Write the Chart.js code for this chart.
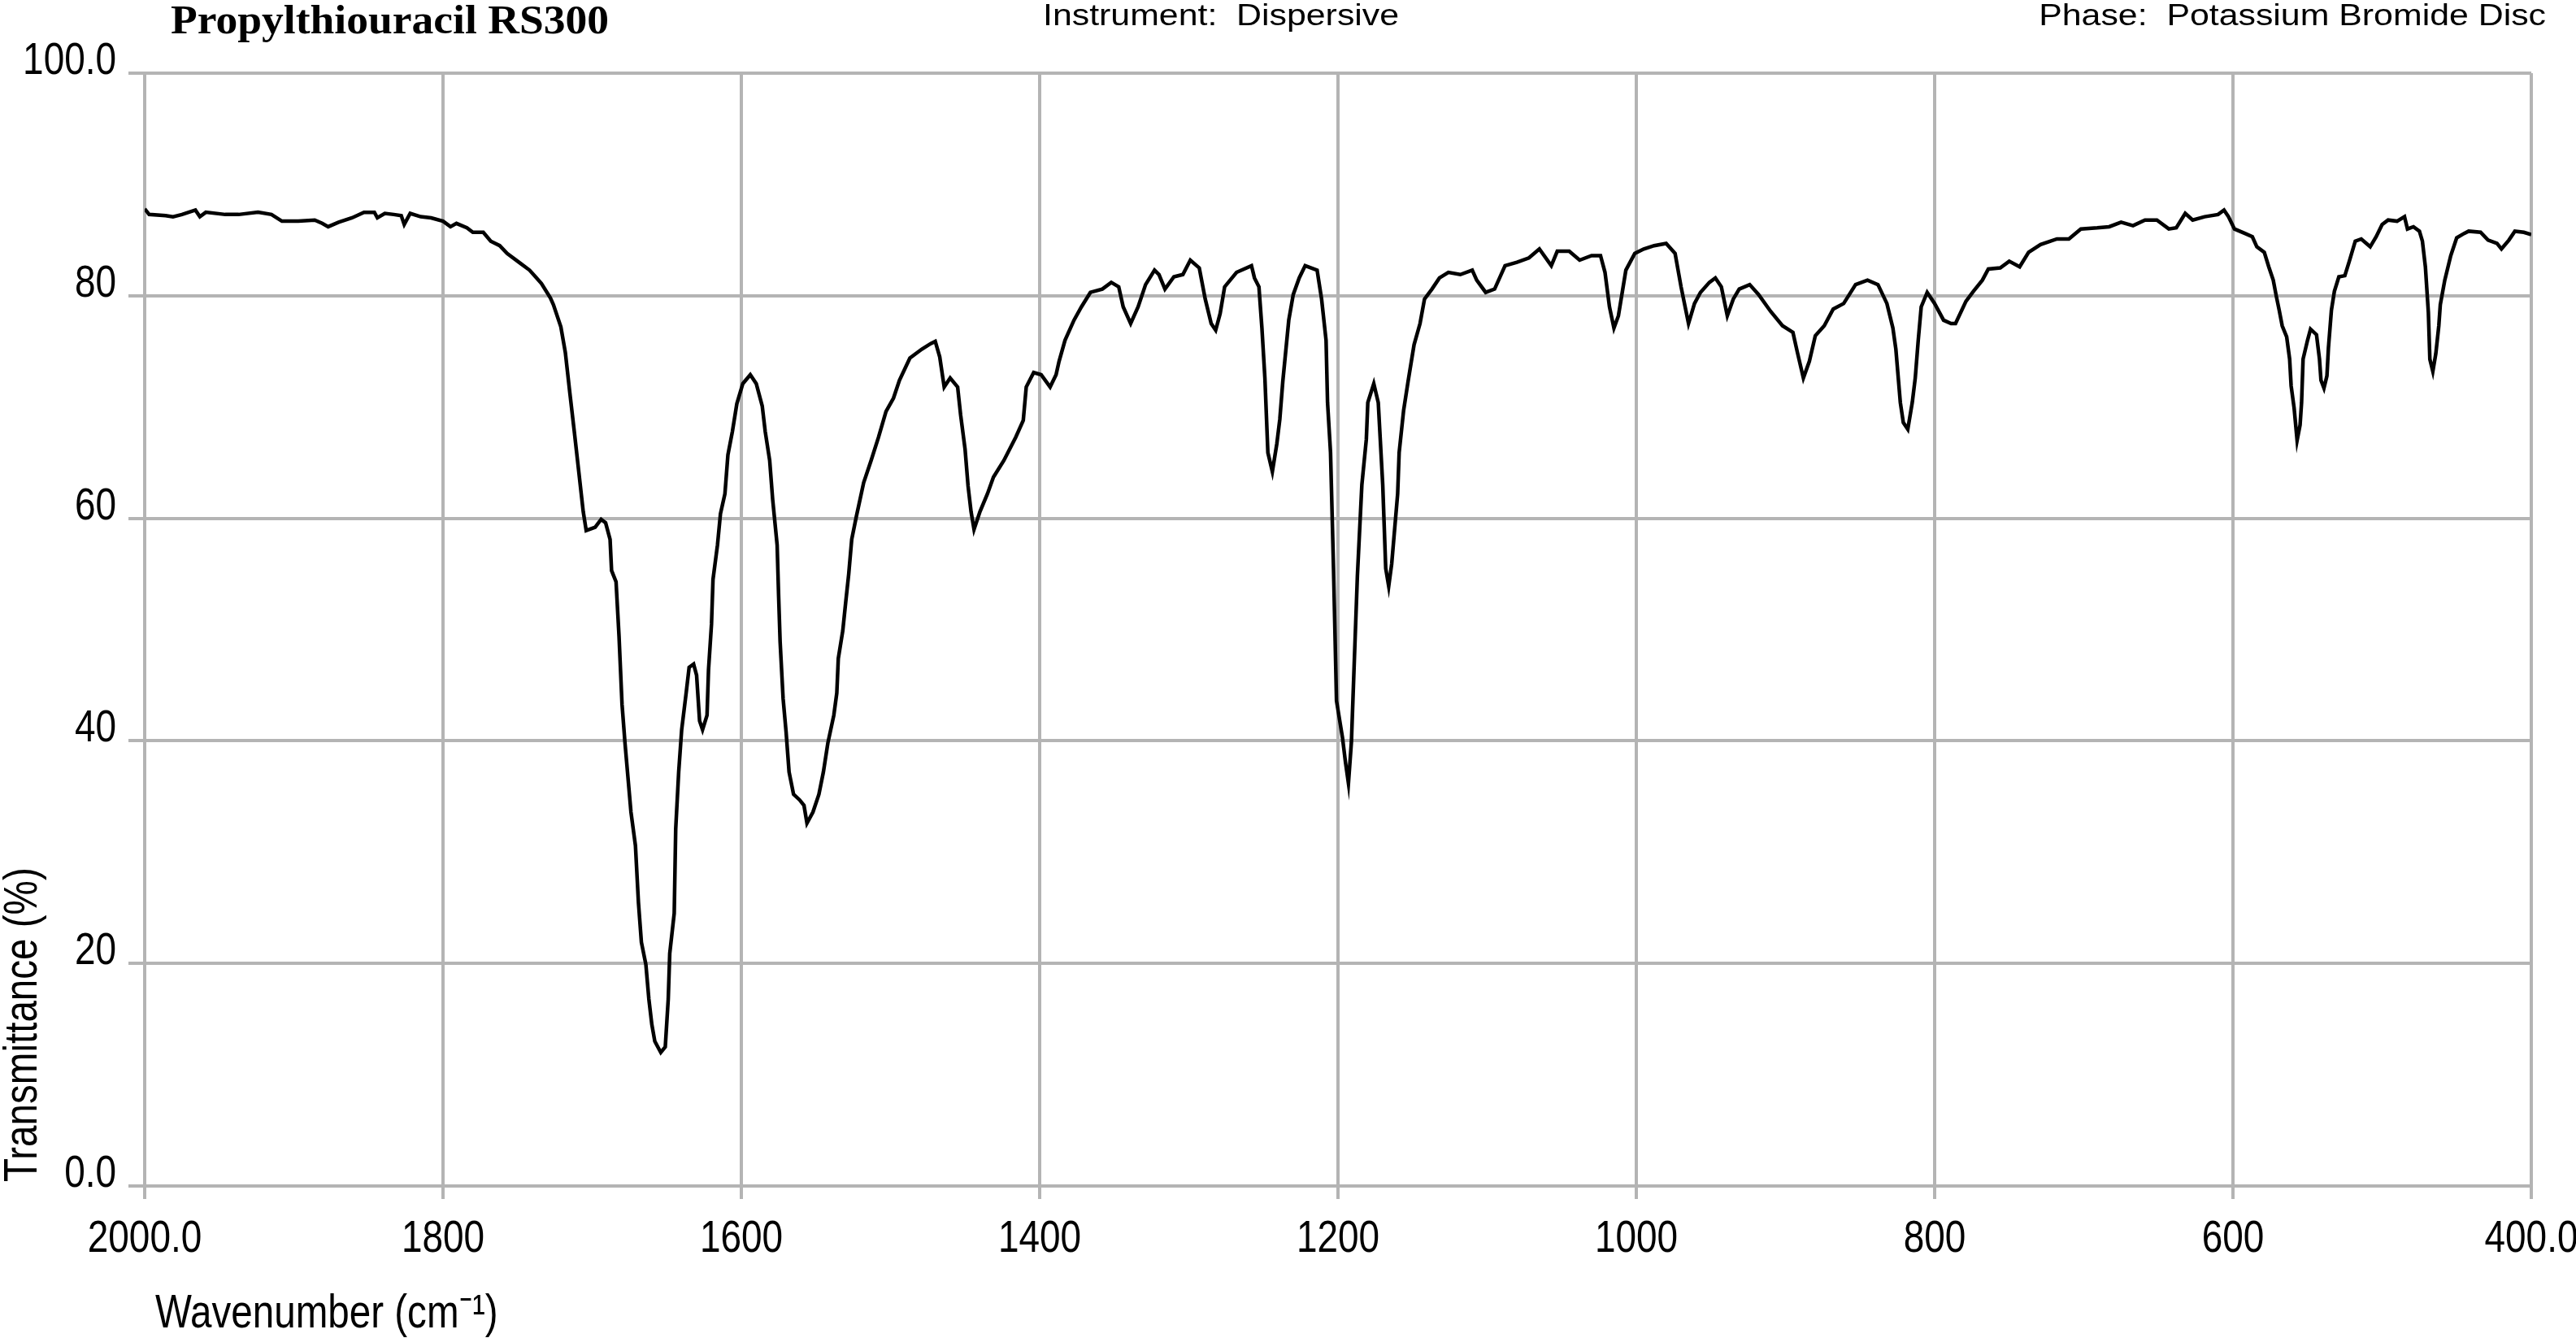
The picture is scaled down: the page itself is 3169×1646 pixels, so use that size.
<!DOCTYPE html>
<html>
<head>
<meta charset="utf-8">
<title>Propylthiouracil RS300</title>
<script src="https://cdn.jsdelivr.net/npm/chart.js@4.4.1/dist/chart.umd.min.js"></script>
<style>
    body { margin: 0; background: #fff; }
    canvas { display: block; }
</style>
</head>
<body>
<canvas id="myChart" width="3169" height="1646"></canvas>
<script>
// spectrum, high wavenumber first
const wavenumbers = [
    2000, 1997, 1986, 1981, 1975, 1966, 1963, 1959, 1946, 1937, 1924, 1915, 1908, 1897, 1886, 1881, 1877, 1870,
    1861, 1853, 1846, 1844, 1839, 1833, 1828, 1826, 1822, 1815, 1808, 1800, 1795, 1791, 1784, 1780, 1773, 1768,
    1762, 1757, 1748, 1742, 1738, 1734, 1728, 1726, 1721, 1718, 1715, 1712, 1709, 1706, 1704, 1698, 1694, 1691,
    1688, 1687, 1684, 1682, 1680, 1678, 1676, 1674, 1671, 1669, 1667, 1664, 1662, 1660, 1658, 1654, 1651, 1649,
    1648, 1645, 1644, 1642, 1640, 1637, 1635, 1632, 1630, 1628, 1626, 1623, 1622, 1620, 1619, 1616, 1614, 1611,
    1609, 1606, 1603, 1599, 1594, 1590, 1586, 1584, 1581, 1579, 1576, 1575, 1574, 1572, 1570, 1568, 1565, 1561,
    1558, 1556, 1552, 1548, 1545, 1542, 1538, 1536, 1535, 1532, 1530, 1528, 1526, 1523, 1518, 1513, 1508, 1503,
    1498, 1494, 1487, 1479, 1473, 1470, 1467, 1464, 1460, 1455, 1453, 1450, 1448, 1446, 1444, 1440, 1435, 1431,
    1424, 1416, 1411, 1409, 1404, 1399, 1393, 1389, 1387, 1383, 1377, 1372, 1366, 1358, 1352, 1347, 1344, 1339,
    1334, 1329, 1323, 1320, 1316, 1310, 1304, 1299, 1293, 1289, 1285, 1282, 1279, 1276, 1268, 1258, 1256, 1253,
    1251, 1249, 1247, 1244, 1241, 1239, 1237, 1233, 1230, 1226, 1222, 1214, 1211, 1208, 1207, 1205, 1203, 1201,
    1197, 1195, 1193, 1191, 1189, 1187, 1184, 1181, 1180, 1176, 1173, 1170, 1168, 1166, 1164, 1160, 1159, 1156,
    1153, 1149, 1145, 1142, 1137, 1132, 1126, 1118, 1110, 1107, 1101, 1095, 1088, 1080, 1072, 1065, 1057, 1053,
    1045, 1038, 1030, 1024, 1021, 1018, 1015, 1012, 1007, 1001, 995, 988, 980, 974, 970, 965, 961, 957,
    951, 947, 943, 939, 935, 931, 924, 918, 910, 902, 895, 892, 888, 884, 880, 874, 868, 861,
    853, 845, 838, 832, 828, 826, 823, 821, 818, 815, 813, 811, 809, 805, 800, 794, 789, 786,
    779, 774, 768, 764, 756, 750, 743, 737, 729, 718, 710, 702, 691, 683, 675, 667, 659, 651,
    643, 638, 632, 627, 619, 610, 606, 603, 599, 592, 587, 584, 579, 576, 573, 571, 569, 567,
    564, 562, 561, 559, 557, 555, 554, 553, 550, 548, 544, 542, 541, 539, 537, 536, 534, 532,
    529, 525, 522, 518, 514, 508, 504, 500, 496, 490, 485, 483, 479, 475, 473, 471, 469, 468,
    466, 464, 462, 461, 458, 454, 450, 445, 442, 434, 429, 423, 420, 415, 411, 405, 400
];
const transmittance = [
    87.8, 87.3, 87.2, 87.1, 87.3, 87.7, 87.1, 87.5, 87.3, 87.3, 87.5, 87.3, 86.7, 86.7, 86.8, 86.5, 86.2, 86.6,
    87.0, 87.5, 87.5, 87.0, 87.4, 87.3, 87.2, 86.4, 87.4, 87.1, 87.0, 86.7, 86.2, 86.5, 86.1, 85.7, 85.7, 84.9,
    84.5, 83.8, 82.9, 82.3, 81.7, 81.1, 79.8, 79.2, 77.2, 74.9, 71.3, 67.8, 64.2, 60.6, 58.9, 59.2, 59.9, 59.6,
    58.1, 55.3, 54.3, 49.4, 43.3, 39.8, 36.7, 33.6, 30.6, 25.5, 21.9, 19.9, 16.8, 14.5, 13.0, 12.0, 12.5, 16.8,
    20.9, 24.5, 32.1, 37.2, 41.0, 44.3, 46.6, 46.9, 45.9, 41.8, 41.0, 42.3, 46.4, 50.5, 54.5, 57.6, 60.4, 62.2,
    65.7, 67.8, 70.3, 72.1, 72.9, 72.1, 70.1, 67.8, 65.2, 61.7, 57.6, 53.0, 48.9, 43.8, 40.8, 37.2, 35.2, 34.7,
    34.2, 32.6, 33.6, 35.2, 37.2, 39.8, 42.3, 44.3, 47.4, 49.9, 52.5, 55.0, 58.1, 60.1, 63.2, 65.2, 67.3, 69.6,
    70.8, 72.4, 74.4, 75.2, 75.7, 75.9, 74.5, 71.8, 72.6, 71.8, 69.3, 66.2, 62.9, 60.6, 59.0, 60.6, 62.2, 63.7,
    65.2, 67.3, 68.8, 71.8, 73.1, 72.9, 71.8, 72.9, 74.1, 76.0, 77.8, 79.0, 80.3, 80.6, 81.2, 80.8, 79.0, 77.5,
    79.0, 81.0, 82.3, 81.9, 80.6, 81.7, 81.9, 83.2, 82.5, 79.7, 77.5, 76.9, 78.4, 80.8, 82.1, 82.7, 81.6, 80.8,
    77.1, 72.6, 65.9, 64.2, 66.7, 68.9, 72.3, 77.8, 80.1, 81.6, 82.7, 82.3, 79.7, 76.0, 70.4, 65.9, 55.5, 43.6,
    40.3, 38.1, 36.2, 39.9, 47.4, 54.8, 63.0, 67.1, 70.4, 72.1, 70.4, 63.0, 55.5, 53.9, 55.9, 62.2, 65.9, 69.7,
    72.3, 75.6, 77.5, 79.7, 80.6, 81.6, 82.1, 81.9, 82.3, 81.4, 80.3, 80.6, 82.7, 83.0, 83.4, 84.2, 82.7, 84.0,
    84.0, 83.2, 83.6, 83.6, 82.1, 79.0, 77.1, 78.2, 82.3, 83.8, 84.2, 84.5, 84.7, 83.8, 80.8, 77.5, 79.3, 80.3,
    81.2, 81.6, 80.8, 78.2, 79.7, 80.6, 81.0, 80.1, 78.6, 77.3, 76.7, 74.9, 72.6, 74.1, 76.4, 77.3, 78.8, 79.3,
    81.0, 81.4, 81.0, 79.3, 77.1, 75.2, 70.4, 68.6, 68.0, 70.4, 72.6, 76.0, 79.0, 80.3, 79.3, 77.8, 77.5, 77.5,
    79.5, 80.4, 81.4, 82.4, 82.5, 83.1, 82.6, 83.9, 84.6, 85.1, 85.1, 86.0, 86.1, 86.2, 86.6, 86.3, 86.8, 86.8,
    86.0, 86.1, 87.4, 86.8, 87.1, 87.3, 87.7, 87.1, 86.0, 85.6, 85.3, 84.4, 83.9, 82.6, 81.4, 80.0, 78.7, 77.3,
    76.3, 74.3, 71.9, 69.9, 67.0, 68.4, 70.4, 74.3, 76.0, 77.0, 76.5, 74.3, 72.4, 71.7, 72.8, 75.3, 78.7, 80.4,
    81.7, 81.8, 83.1, 84.9, 85.1, 84.4, 85.3, 86.4, 86.8, 86.7, 87.1, 86.0, 86.2, 85.8, 84.9, 82.6, 78.5, 74.3,
    73.2, 74.8, 77.3, 79.2, 81.4, 83.6, 85.2, 85.6, 85.8, 85.7, 85.0, 84.7, 84.2, 85.0, 85.8, 85.7, 85.5
];

const xTicks = [2000, 1800, 1600, 1400, 1200, 1000, 800, 600, 400];
const xTickLabels = ['2000.0', '1800', '1600', '1400', '1200', '1000', '800', '600', '400.0'];
const yTicks = [0, 20, 40, 60, 80, 100];
const yTickLabels = ['0.0', '20', '40', '60', '80', '100.0'];

const titleText = 'Propylthiouracil RS300';
const instrumentText = 'Instrument:  Dispersive';
const phaseText = 'Phase:  Potassium Bromide Disc';
const xTitle = 'Wavenumber (cm\u207B\u00B9)';
const yTitle = 'Transmittance (%)';

const SANS = "'Liberation Sans', Arial, sans-serif";
const GRID = '#b4b4b4';
const NARROW_X = 0.82; // no narrow face installed, squeeze the regular one

// text drawn with a horizontal squeeze / stretch
function drawText(ctx, text, x, y, sx, align, rotate) {
    ctx.save();
    ctx.translate(x, y);
    if (rotate) ctx.rotate(rotate);
    ctx.scale(sx, 1);
    ctx.textAlign = align;
    ctx.fillText(text, 0, 0);
    ctx.restore();
}

// header, tick labels and axis titles
const textPlugin = {
    id: 'texts',
    afterDraw(chart) {
        const ctx = chart.ctx;
        const xs = chart.scales.x;
        const ys = chart.scales.y;
        ctx.save();
        ctx.fillStyle = '#000';
        ctx.textBaseline = 'alphabetic';

        ctx.font = "bold 51px 'Liberation Serif', serif";
        drawText(ctx, titleText, 210, 41, 1.05, 'left');

        ctx.font = "36px " + SANS;
        drawText(ctx, instrumentText, 1283, 31, 1.19, 'left');
        drawText(ctx, phaseText, 3132, 31, 1.19, 'right');

        ctx.font = "56px " + SANS;
        xTicks.forEach((v, i) => {
            drawText(ctx, xTickLabels[i], xs.getPixelForValue(v), 1540, NARROW_X, 'center');
        });
        yTicks.forEach((v, i) => {
            drawText(ctx, yTickLabels[i], 143, ys.getPixelForValue(v) + 1, NARROW_X, 'right');
        });

        ctx.font = "58px " + SANS;
        drawText(ctx, xTitle, 191, 1633, NARROW_X, 'left');
        drawText(ctx, yTitle, 45, 1454, NARROW_X, 'left', -Math.PI / 2);

        ctx.restore();
    }
};

(function() {
    const chart = document.querySelector('#myChart');
    new Chart(chart, {
        type: 'line',
        data: {
            datasets: [
                {
                    data: wavenumbers.map((w, i) => ({x: w, y: transmittance[i]})),
                    borderColor: '#000',
                    borderWidth: 4.5,
                    pointRadius: 0,
                    tension: 0,
                    fill: false,
                }
            ]
        },
        options: {
            responsive: false,
            animation: false,
            parsing: false,
            layout: {
                padding: {top: 90, right: 55, left: 0, bottom: 0},
            },
            scales: {
                x: {
                    type: 'linear',
                    reverse: true,
                    min: 400,
                    max: 2000,
                    afterBuildTicks: scale => {
                        scale.ticks = xTicks.map(v => ({value: v}));
                    },
                    afterFit: scale => {
                        scale.height = 187;
                        scale.paddingLeft = 0;
                        scale.paddingRight = 0;
                    },
                    grid: {
                        color: GRID,
                        lineWidth: 4,
                        tickLength: 16,
                        drawTicks: true,
                    },
                    border: {
                        color: GRID,
                        width: 4,
                    },
                    ticks: {
                        display: false, // labels are drawn by textPlugin
                    },
                },
                y: {
                    min: 0,
                    max: 100,
                    afterBuildTicks: scale => {
                        scale.ticks = yTicks.map(v => ({value: v}));
                    },
                    afterFit: scale => {
                        scale.width = 178;
                        scale.paddingTop = 0;
                        scale.paddingBottom = 0;
                    },
                    grid: {
                        color: GRID,
                        lineWidth: 4,
                        tickLength: 20,
                    },
                    border: {
                        color: GRID,
                        width: 4,
                    },
                    ticks: {
                        display: false,
                    },
                },
            },
            plugins: {
                legend: {display: false},
                tooltip: {enabled: false},
            },
        },
        plugins: [textPlugin],
    });
})();
</script>
</body>
</html>
